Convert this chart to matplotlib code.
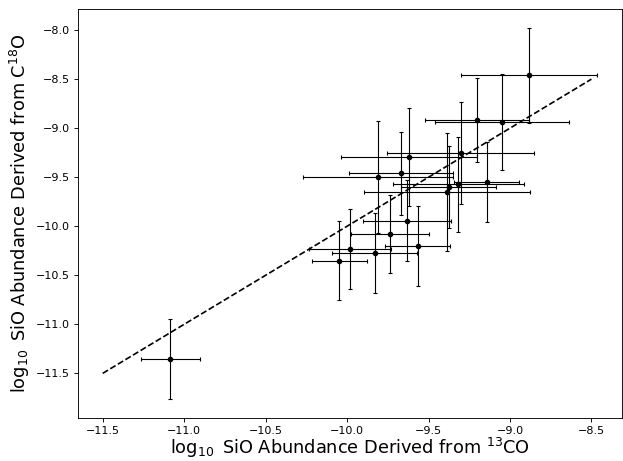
import matplotlib
matplotlib.use("Agg")
import matplotlib.pyplot as plt
import numpy as np

# log10 SiO abundance, 13CO-derived (x) vs C18O-derived (y)
x_13co = [-11.085, -8.881, -9.203, -9.050, -9.303, -9.620, -9.812, -9.669, -9.377,
          -9.316, -9.142, -9.389, -9.635, -9.736, -9.566, -9.981, -9.830, -10.048]
y_c18o = [-11.356, -8.459, -8.917, -8.934, -9.255, -9.290, -9.495, -9.461, -9.598,
          -9.574, -9.547, -9.652, -9.943, -10.077, -10.204, -10.231, -10.271, -10.350]
x_err = [0.18, 0.417, 0.32, 0.41, 0.45, 0.42, 0.46, 0.32, 0.29,
         0.40, 0.20, 0.51, 0.27, 0.24, 0.20, 0.25, 0.26, 0.17]
y_err = [0.41, 0.485, 0.43, 0.49, 0.52, 0.50, 0.57, 0.42, 0.42,
         0.48, 0.41, 0.60, 0.41, 0.40, 0.41, 0.41, 0.41, 0.40]

one_to_one = [-11.5, -8.5]

DPI = 80
fig = plt.figure(figsize=(623 / DPI, 461 / DPI), dpi=DPI)
ax = fig.add_axes([78 / 623, 1 - 418 / 461, 544 / 623, 409 / 461])
ax.errorbar(x_13co, y_c18o, xerr=x_err, yerr=y_err, fmt='o', color='k',
            markersize=4, capsize=2, elinewidth=1, capthick=1)
ax.plot(one_to_one, one_to_one, 'k--', lw=1.5)

ax.set_xlabel(r'$\log_{10}$ SiO Abundance Derived from $^{13}$CO', fontsize=16,
              labelpad=0.5)
ax.set_ylabel(r'$\log_{10}$ SiO Abundance Derived from C$^{18}$O', fontsize=16)

plt.savefig('out.png', dpi=DPI)
